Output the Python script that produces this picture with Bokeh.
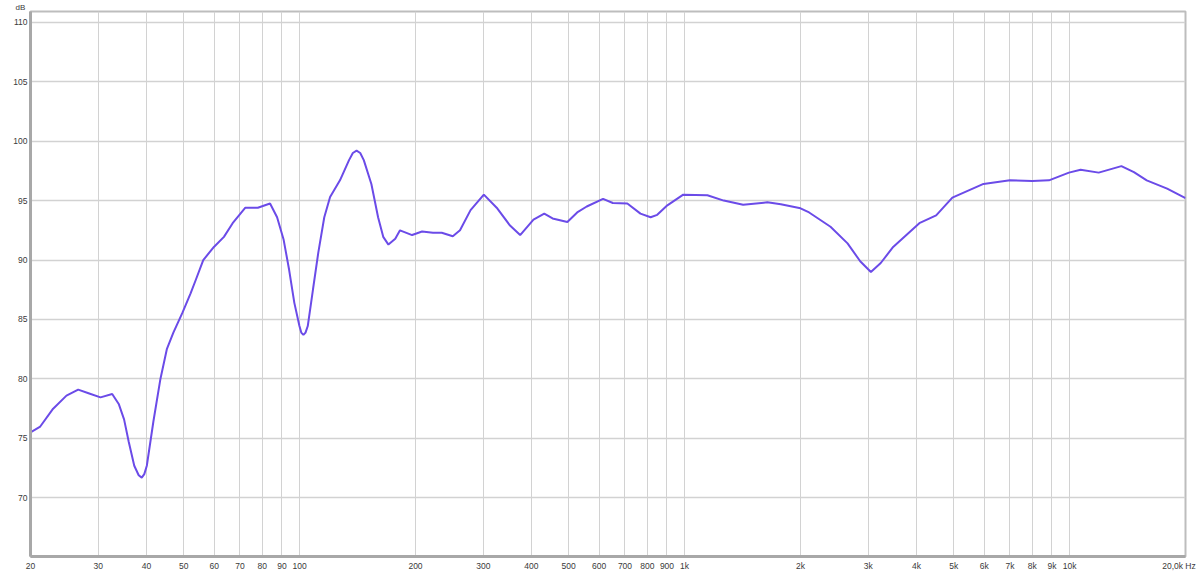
from bokeh.plotting import figure
from bokeh.models import FixedTicker, Range1d, Title
from bokeh.embed import file_html
from bokeh.resources import INLINE

# Frequency response (Hz, dB)
freq = [20, 21.2, 22.9, 24.8, 26.6, 28.3, 30.4, 32.6, 33.9, 35.0, 36.0, 37.2,
        38.2, 38.9, 39.5, 40.1, 41.7, 43.5, 45.2, 47.0, 49.6, 52.1, 53.7, 56.2,
        59.9, 63.6, 67.0, 72.3, 77.9, 83.8, 87.4, 90.9, 93.9, 96.9, 99.9, 101,
        102.3, 103.6, 105.0, 108.3, 111.8, 115.9, 120, 127.3, 134.4, 137.5,
        140.6, 143.7, 146.8, 153.6, 159.9, 164.9, 170.1, 177.2, 182.3, 196,
        208, 222, 234, 250, 261, 278, 301, 325, 352, 374, 405, 432, 454, 496,
        526, 557, 614, 651, 710, 768, 816, 849, 902, 992, 1146, 1264, 1419,
        1640, 1778, 2000, 2106, 2393, 2650, 2858, 3047, 3232, 3481, 4071, 4502,
        4960, 5974, 7000, 8000, 8840, 9960, 10680, 11900, 13630, 14690, 15860,
        17920, 20000]
spl = [75.5, 76.0, 77.5, 78.6, 79.1, 78.8, 78.45, 78.73, 77.9, 76.6, 74.7, 72.7,
       71.9, 71.7, 72.0, 72.7, 76.4, 80.0, 82.5, 83.9, 85.55, 87.2, 88.3, 90.0,
       91.1, 91.95, 93.1, 94.4, 94.4, 94.75, 93.6, 91.7, 89.2, 86.4, 84.45, 83.9,
       83.7, 83.9, 84.45, 87.5, 90.6, 93.6, 95.3, 96.7, 98.4, 99.0,
       99.2, 99.0, 98.4, 96.4, 93.6, 91.95, 91.3, 91.8, 92.5, 92.1,
       92.4, 92.3, 92.3, 92.0, 92.5, 94.2, 95.5, 94.4, 92.9, 92.1, 93.4, 93.9, 93.5, 93.2,
       94.0, 94.5, 95.15, 94.8, 94.75, 93.9, 93.6, 93.8, 94.6, 95.5, 95.45, 95.0, 94.65,
       94.85, 94.7, 94.35, 94.0, 92.8, 91.4, 89.9, 89.0, 89.75, 91.1, 93.1, 93.75,
       95.25, 96.4, 96.7, 96.65, 96.7, 97.35, 97.6, 97.35, 97.9, 97.4, 96.7,
       96.0, 95.2]

x_ticks = [20, 30, 40, 50, 60, 70, 80, 90, 100, 200, 300, 400, 500, 600, 700,
           800, 900, 1000, 2000, 3000, 4000, 5000, 6000, 7000, 8000, 9000,
           10000, 20000]
x_tick_labels = ["20", "30", "40", "50", "60", "70", "80", "90", "100", "200",
                 "300", "400", "500", "600", "700", "800", "900", "1k", "2k",
                 "3k", "4k", "5k", "6k", "7k", "8k", "9k", "10k",
                 "20,0k Hz\u00a0\u00a0"]
y_ticks = [70, 75, 80, 85, 90, 95, 100, 105, 110]
y_unit = "dB"

FONT = "Liberation Sans"
TXT = "#3a3a3a"
FS = "8.5px"

p = figure(width=1200, height=573, x_axis_type="log",
           x_range=Range1d(20, 20000), y_range=Range1d(65.07, 110.9),
           output_backend="svg", toolbar_location=None,
           min_border_left=30, min_border_right=15, min_border_top=10,
           min_border_bottom=15, background_fill_color="white",
           border_fill_color="white")

p.outline_line_color = "#bdbdbd"
p.outline_line_width = 2

p.xaxis.ticker = FixedTicker(ticks=x_ticks, minor_ticks=[])
p.xaxis.major_label_overrides = {t: l for t, l in zip(x_ticks, x_tick_labels)}
p.yaxis.ticker = FixedTicker(ticks=y_ticks, minor_ticks=[])

for ax in (p.xaxis[0], p.yaxis[0]):
    ax.axis_line_color = "#a8a8a8"
    ax.axis_line_width = 3
    ax.major_tick_line_color = None
    ax.minor_tick_line_color = None
    ax.major_tick_out = 0
    ax.major_tick_in = 0
    ax.major_label_text_font = FONT
    ax.major_label_text_font_size = FS
    ax.major_label_text_color = TXT
p.xaxis.major_label_standoff = 4
p.yaxis.major_label_standoff = 3

p.xgrid.grid_line_color = "#d2d2d2"
p.ygrid.grid_line_color = "#d2d2d2"
p.xgrid.grid_line_width = 1
p.ygrid.grid_line_width = 1.5

p.line(freq, spl, line_color="#6b4be8", line_width=2)

p.add_layout(Title(text=y_unit, align="left", offset=-15, standoff=0,
                   text_font=FONT, text_font_size="8px", text_font_style="normal",
                   text_color=TXT), "above")

open("out.html", "w").write(file_html(p, INLINE))
